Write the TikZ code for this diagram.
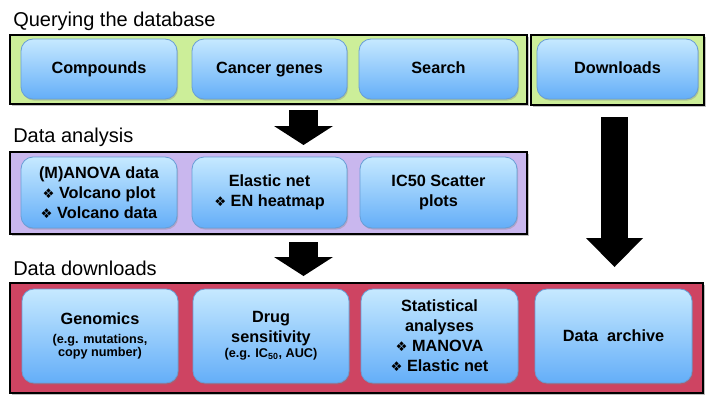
\documentclass[tikz,border=0pt]{standalone}
\usepackage{fontspec}
\setmainfont{Liberation Sans}
\newfontfamily\dingfont{DejaVu Sans}
\usetikzlibrary{arrows.meta,shadows}
\definecolor{querygreen}{RGB}{204,238,153}
\definecolor{analysispurple}{RGB}{201,183,238}
\definecolor{downloadred}{RGB}{206,68,98}
\definecolor{boxtop}{RGB}{198,233,255}
\definecolor{boxbottom}{RGB}{100,174,248}
\definecolor{boxline}{RGB}{104,158,214}
\newcommand{\dia}{{\dingfont\fontsize{10}{15}\selectfont\symbol{"2756}}\ }
\newcommand{\subfont}{\fontsize{9.5}{12}\selectfont}
\begin{document}
\begin{tikzpicture}[x=0.75pt,y=0.75pt,yscale=-1,xscale=1,
  panel/.style={draw=black,line width=1.5pt,inner sep=0pt,
    drop shadow={shadow xshift=1.5pt,shadow yshift=-1.5pt,opacity=.5}},
  box/.style={rounded corners=9pt,draw=boxline,line width=0.6pt,
    top color=boxtop,bottom color=boxbottom,align=center,inner sep=2pt,
    font=\bfseries\fontsize{12.2}{15}\selectfont,
    drop shadow={shadow xshift=0.8pt,shadow yshift=-1.2pt,opacity=.35}},
  onebox/.style={box,text height=9pt,text depth=2.6pt,minimum height=45pt},
  title/.style={anchor=base west,inner sep=0pt,font=\fontsize{15}{18}\selectfont},
  bigarrow/.style={line width=21.75pt,-{Triangle[width=44.25pt,length=14.25pt,line width=0pt]}},
  longarrow/.style={line width=20.25pt,-{Triangle[width=42.75pt,length=21.75pt,line width=0pt]}}]
\useasboundingbox (0,0) rectangle (713,403);

%Shape: Panels
\node [panel,fill=querygreen,minimum width=387.75pt,minimum height=51.75pt] (query) at (268.5,69.5) {};
\node [panel,fill=querygreen,minimum width=129.75pt,minimum height=52.5pt] (dlpanel) at (617.5,70) {};
\node [panel,fill=analysispurple,minimum width=387.75pt,minimum height=61.5pt] (analysis) at (268.5,193) {};
\node [panel,fill=downloadred,minimum width=519.75pt,minimum height=82.5pt] (downloads) at (356.5,338) {};

% Text Node
\node [title] (qtitle) at (13,27) {Querying the database};
\node [title] (atitle) at (13,142) {Data analysis};
\node [title] (dtitle) at (13,275) {Data downloads};

%Shape: Boxes, first row
\node [onebox,minimum width=117pt] (compounds) at (99,69) {Compounds};
\node [onebox,minimum width=116.25pt] (genes) at (269.5,69) {Cancer genes};
\node [onebox,minimum width=119.25pt] (search) at (438.5,69) {Search};
\node [onebox,minimum width=120.75pt] (dlbox) at (617.5,69) {Downloads};

%Shape: Boxes, second row
\node [box,minimum width=117pt,minimum height=53.25pt] (manova) at (99,192.5) {(M)ANOVA data\\\dia Volcano plot\\\dia Volcano data};
\node [box,minimum width=116.25pt,minimum height=53.25pt] (elastic) at (269.5,192.5) {Elastic net\\\dia EN heatmap};
\node [box,minimum width=117.75pt,minimum height=53.25pt] (scatter) at (438.5,192.5) {IC50 Scatter\\plots};

%Shape: Boxes, third row
\node [box,minimum width=117pt,minimum height=70.5pt] (genomics) at (100,336) {Genomics\\[-1pt]{\subfont (e.g. mutations,}\\[-5.5pt]{\subfont copy number)}};
\node [box,minimum width=117pt,minimum height=70.5pt] (drug) at (271,336) {Drug\\sensitivity\\[-4pt]{\subfont (e.g. IC\textsubscript{50}, AUC)}};
\node [box,minimum width=117.75pt,minimum height=70.5pt] (stats) at (439.5,336) {Statistical\\analyses\\\dia MANOVA\\\dia Elastic net};
\node [box,minimum width=117.75pt,minimum height=70.5pt] (archive) at (613.5,336) {Data~ archive};

%Straight Lines: block arrows
\coordinate (a1top) at (303.5,110);
\coordinate (a1tip) at (303.5,145);
\coordinate (a2top) at (303.5,242);
\coordinate (a2tip) at (303.5,276);
\coordinate (a3top) at (614.5,117);
\coordinate (a3tip) at (614.5,267);
\draw [bigarrow] (a1top) -- (a1tip);
\draw [bigarrow] (a2top) -- (a2tip);
\draw [longarrow] (a3top) -- (a3tip);
\end{tikzpicture}
\end{document}
